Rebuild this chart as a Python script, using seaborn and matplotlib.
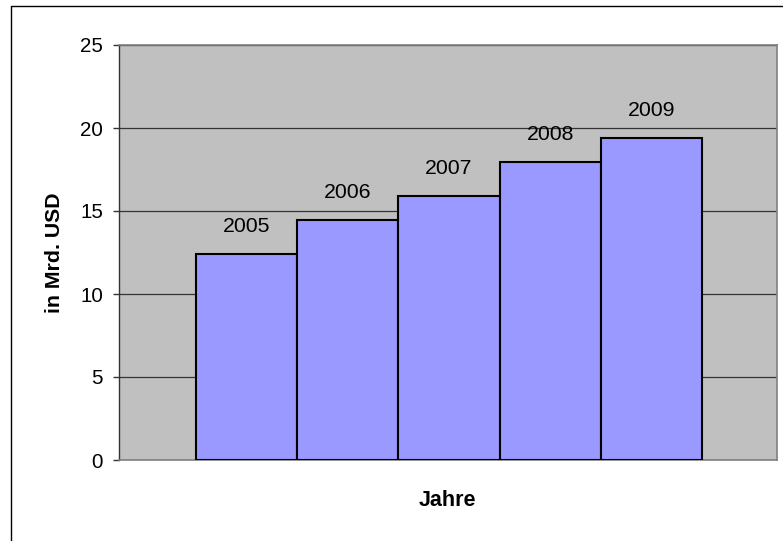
import matplotlib
matplotlib.use("Agg")
import matplotlib.pyplot as plt
import seaborn as sns
import pandas as pd
from matplotlib.lines import Line2D

years = ["2005", "2006", "2007", "2008", "2009"]
values = [12.4, 14.45, 15.9, 17.95, 19.4]
yticks = [0, 5, 10, 15, 20, 25]

sns.set_style("white")
plt.rcParams['font.family'] = ['Liberation Sans', 'DejaVu Sans']
plt.rcParams['text.color'] = 'black'
plt.rcParams['ytick.labelcolor'] = 'black'

fig = plt.figure(figsize=(7.83, 5.41), dpi=100)
ax = fig.add_axes([119/783, 1-460/541, (777-119)/783, (460-45)/541])
ax.set_facecolor("#C0C0C0")

df = pd.DataFrame({"Jahr": years, "Wert": values})
sns.barplot(data=df, x="Jahr", y="Wert", color="#9999FF", width=1.0,
            edgecolor="black", linewidth=1.5, saturation=1, ax=ax, zorder=3)

ax.set_xlim(-1.26, 5.24)
ax.set_ylim(0, 25)
ax.set_yticks(yticks)
ax.set_yticklabels([str(t) for t in yticks], fontsize=14.8, color="black")
ax.set_xticks([])
ax.yaxis.grid(True, color="#333333", linewidth=0.9)
ax.set_axisbelow(True)
ax.tick_params(axis="y", direction="out", length=4.5, width=1, color="#333333",
               left=True, pad=7)

for s in ["top", "right", "bottom"]:
    ax.spines[s].set_color("#808080")
    ax.spines[s].set_linewidth(1.2)
ax.spines["left"].set_color("#333333")
ax.spines["left"].set_linewidth(1)

for i, (y, v) in enumerate(zip(years, values)):
    ax.annotate(y, (i, v), xytext=(0, 20), textcoords="offset points",
                ha="center", va="center", fontsize=15.3, color="black",
                annotation_clip=False)

ax.set_xlabel("")
ax.set_ylabel("")
fig.text(55/783, 1-253/541, "in Mrd. USD", rotation=90, ha="center", va="center",
         fontsize=15.3, fontweight="bold", color="black")
fig.text(447/783, 1-500/541, "Jahre", ha="center", va="center",
         fontsize=15.5, fontweight="bold", color="black")

fig.add_artist(Line2D([11/783, 11/783], [-0.05, 1-6/541], transform=fig.transFigure,
                      color="black", linewidth=1))
fig.add_artist(Line2D([11/783, 1.05], [1-6/541, 1-6/541], transform=fig.transFigure,
                      color="black", linewidth=1))

fig.savefig("out.png", dpi=100)
